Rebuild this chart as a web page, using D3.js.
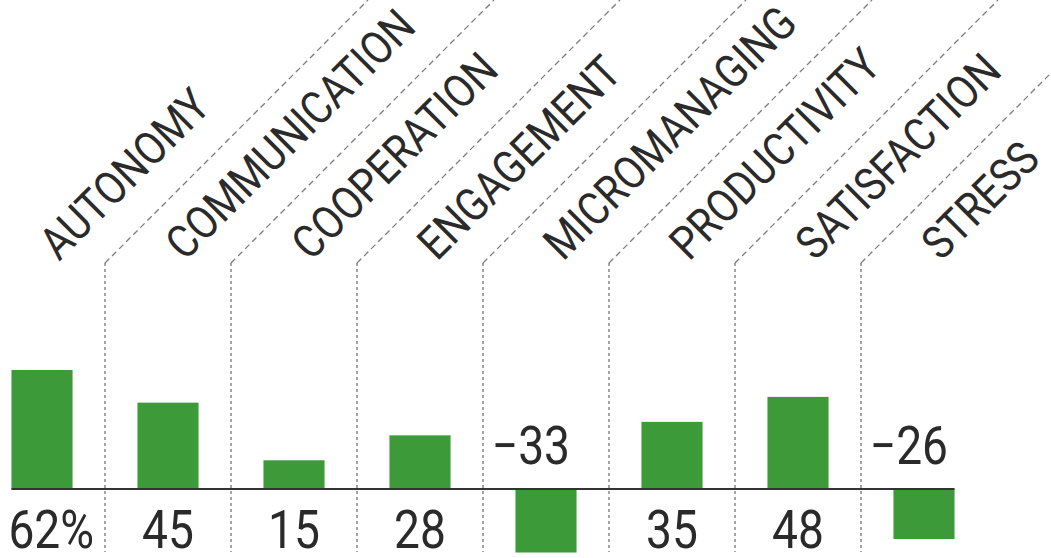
<!DOCTYPE html>
<html>
<head>
<meta charset="utf-8">
<script src="https://cdn.jsdelivr.net/npm/d3@7"></script>
<style>
  body { margin: 0; background: #fff; }
  svg { display: block; }
  text { font-family: Roboto, "Liberation Sans", sans-serif; font-weight: 400; fill: #2a2a2a; }
</style>
</head>
<body>
<div class="chart"></div>
<script>
var w = 1051;
var h = 558;

// data
var categories = ["AUTONOMY", "COMMUNICATION", "COOPERATION", "ENGAGEMENT",
                  "MICROMANAGING", "PRODUCTIVITY", "SATISFACTION", "STRESS"];
var values = [62, 45, 15, 28, -33, 35, 48, -26];
var valueLabels = ["62%", "45", "15", "28", "\u221233", "35", "48", "\u221226"];

var green = "#3c9b38";
var condense = 0.87; // the original face is a condensed sans

var svg = d3.select(".chart")
  .append("svg")
  .attr("width", w)
  .attr("height", h);

var xScale = d3.scaleBand()
  .domain(categories)
  .range([-21, 987])
  .padding(0);

var yScale = d3.scaleLinear()
  .domain([-33, 62])
  .range([552.5, 370]);

var bw = xScale.bandwidth();
var barW = bw * 0.485;
var sepTop = 263;
var sepBottom = 552;

function barX(i) { return xScale(categories[i]) + (bw - barW) / 2; }

// separators: dotted vertical + dashed diagonal going up-right
var seps = categories.slice(1);

svg.selectAll("line.vsep")
  .data(seps)
  .enter()
  .append("line")
  .attr("class", "vsep")
  .attr("x1", function(d) { return xScale(d); })
  .attr("x2", function(d) { return xScale(d); })
  .attr("y1", sepTop)
  .attr("y2", sepBottom)
  .attr("stroke", "#7d7d7d")
  .attr("stroke-width", 1.4)
  .attr("stroke-dasharray", "3,3");

svg.selectAll("line.dsep")
  .data(seps)
  .enter()
  .append("line")
  .attr("class", "dsep")
  .attr("x1", function(d) { return xScale(d); })
  .attr("y1", sepTop)
  .attr("x2", function(d) { return xScale(d) + sepTop; })
  .attr("y2", 0)
  .attr("stroke", "#7d7d7d")
  .attr("stroke-width", 1.3)
  .attr("stroke-dasharray", "6,4");

// bars
svg.selectAll("rect")
  .data(values)
  .enter()
  .append("rect")
  .attr("x", function(d, i) { return barX(i); })
  .attr("y", function(d) { return Math.min(yScale(d), yScale(0)); })
  .attr("width", barW)
  .attr("height", function(d) { return Math.abs(yScale(d) - yScale(0)); })
  .attr("fill", green);

// zero line
svg.append("line")
  .attr("x1", barX(0))
  .attr("x2", barX(categories.length - 1) + barW)
  .attr("y1", yScale(0))
  .attr("y2", yScale(0))
  .attr("stroke", "#333")
  .attr("stroke-width", 2);

// category labels, rotated
svg.selectAll("text.cat")
  .data(categories)
  .enter()
  .append("text")
  .attr("class", "cat")
  .attr("transform", function(d) {
    return "translate(" + (xScale(d) + bw / 2 + 17) + "," + 262 + ") rotate(-45) scale(" + condense + ",1)";
  })
  .style("font-size", "46px")
  .text(function(d) { return d; });

// value labels
svg.selectAll("text.val")
  .data(values)
  .enter()
  .append("text")
  .attr("class", "val")
  .attr("transform", function(d, i) {
    var c = xScale(categories[i]) + bw / 2;
    var x = c, y = 548;
    if (d < 0) { x = c + 24; y = yScale(0) - 25; }
    if (valueLabels[i].indexOf("%") >= 0) { x = barX(i) - 3; }
    return "translate(" + x + "," + y + ") scale(0.87,1)";
  })
  .attr("text-anchor", function(d, i) {
    if (valueLabels[i].indexOf("%") >= 0) return "start";
    return d < 0 ? "end" : "middle";
  })
  .style("font-size", "53px")
  .text(function(d, i) { return valueLabels[i]; });
</script>
</body>
</html>
